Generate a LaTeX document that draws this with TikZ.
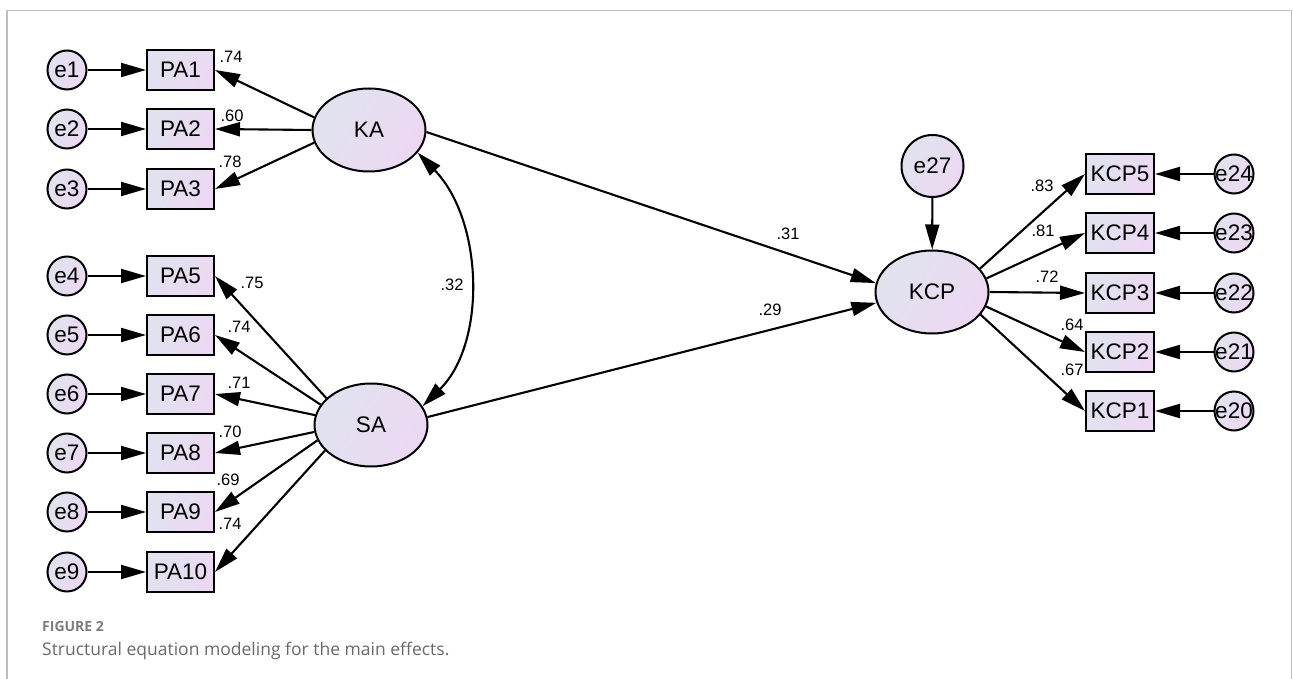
\documentclass[tikz,border=0pt]{standalone}
\usepackage{fontspec}
\setmainfont{Liberation Sans}
\newfontfamily\capfont{Open Sans}
\usetikzlibrary{arrows.meta,shapes.geometric}
\definecolor{shA}{RGB}{224,227,238}
\definecolor{shB}{RGB}{236,216,243}
\definecolor{framegray}{RGB}{190,190,190}
\definecolor{capgray}{RGB}{105,105,105}
\definecolor{figgray}{RGB}{125,125,125}
\begin{document}
\begin{tikzpicture}[x=1pt,y=-1pt,
  every node/.style={font=\fontsize{22.5}{26}\selectfont},
  fillsh/.style={left color=shA, right color=shB, shading angle=60},
  obs/.style={draw, line width=2pt, fillsh, minimum width=67pt, minimum height=40pt, inner sep=0pt},
  lat/.style={draw, ellipse, line width=2pt, fillsh, minimum width=113pt, minimum height=83pt, inner sep=0pt},
  err/.style={draw, circle, line width=2pt, fillsh, minimum size=39pt, inner sep=0pt},
  coef/.style={font=\fontsize{16.5}{18}\selectfont, inner sep=0pt},
  conn/.style={line width=2.1pt, -{Triangle[length=25pt,width=14pt]}},
  biconn/.style={line width=2.1pt, {Triangle[length=25pt,width=14pt]}-{Triangle[length=25pt,width=14pt]}},
]
\useasboundingbox (0,0) rectangle (1293,679);
% frame
\draw[framegray, line width=1.5pt] (7,679) -- (7,10.5) -- (1291.5,10.5) -- (1291.5,679);

% left error terms and indicators
\foreach \n/\e/\y in {PA1/e1/70, PA2/e2/129, PA3/e3/189, PA5/e4/276, PA6/e5/335, PA7/e6/394, PA8/e7/453, PA9/e8/512, PA10/e9/572}{
  \node[obs] (\n) at (180.5,\y) {\n};
  \node[err] (\e) at (67,\y) {\e};
  \draw[conn] (\e) -- (\n);
}

% latent variables
\node[lat] (KA) at (369,130) {KA};
\node[lat] (SA) at (371,425) {SA};
\node[lat] (KCP) at (932,292) {KCP};
\node[err, minimum size=62pt] (e27) at (932.5,166) {e27};

% right indicators
\foreach \n/\e/\y in {KCP5/e24/174, KCP4/e23/233, KCP3/e22/293, KCP2/e21/352, KCP1/e20/411}{
  \node[obs, minimum width=68pt] (\n) at (1120,\y) {\n};
  \node[err, label={center:\e}] (\e) at (1234,\y) {};
  \draw[conn] (\e) -- (\n);
}

% loadings
\draw[conn] (KA.167) -- (PA1.east);
\draw[conn] (KA.180) -- (PA2.east);
\draw[conn] (KA.193) -- (PA3.east);
\draw[conn] (SA.149) -- (PA5.east);
\draw[conn] (SA.158) -- (PA6.east);
\draw[conn] (SA.170) -- (PA7.east);
\draw[conn] (SA.187) -- (PA8.east);
\draw[conn] (SA.196) -- (PA9.east);
\draw[conn] (SA.209) -- (PA10.east);

\draw[conn] (KCP.26) -- (KCP5.west);
\draw[conn] (KCP.14) -- (KCP4.west);
\draw[conn] (KCP.0) -- (KCP3.west);
\draw[conn] (KCP.-15) -- (KCP2.west);
\draw[conn] (KCP.-25) -- (KCP1.west);

% structural paths
\draw[conn] (KA.-2) -- (KCP.171);
\draw[conn] (SA.8) -- (KCP.191);
\draw[conn] (e27) -- (KCP);
\draw[biconn] (KA.-25) .. controls +(66,68) and +(64,-63) .. (SA.20);

% coefficients
\node[coef] (c1) at (231,57) {.74};
\node[coef] (c2) at (232,116) {.60};
\node[coef] (c3) at (230,162) {.78};
\node[coef] (c5) at (252,283) {.75};
\node[coef] (c6) at (239,327) {.74};
\node[coef] (c7) at (239,383) {.71};
\node[coef] (c8) at (230,432) {.70};
\node[coef] (c9) at (228,480) {.69};
\node[coef] (c10) at (230,524) {.74};
\node[coef] (r) at (452,285) {.32};
\node[coef] (b1) at (788,234) {.31};
\node[coef] (b2) at (770,310) {.29};
\node[coef] (k5) at (1042,186) {.83};
\node[coef] (k4) at (1043,231) {.81};
\node[coef] (k3) at (1047,277) {.72};
\node[coef] (k2) at (1072,325) {.64};
\node[coef] (k1) at (1072,370) {.67};

% caption
\node[anchor=base west, inner sep=0pt, text=figgray, font=\capfont\bfseries\fontsize{14}{16}\selectfont] (figlabel) at (42,631) {FIGURE 2};
\node[anchor=base west, inner sep=0pt, text=capgray, font=\capfont\fontsize{17.5}{20}\selectfont] (caption) at (42,655) {Structural equation modeling for the main effects.};
\end{tikzpicture}
\end{document}
